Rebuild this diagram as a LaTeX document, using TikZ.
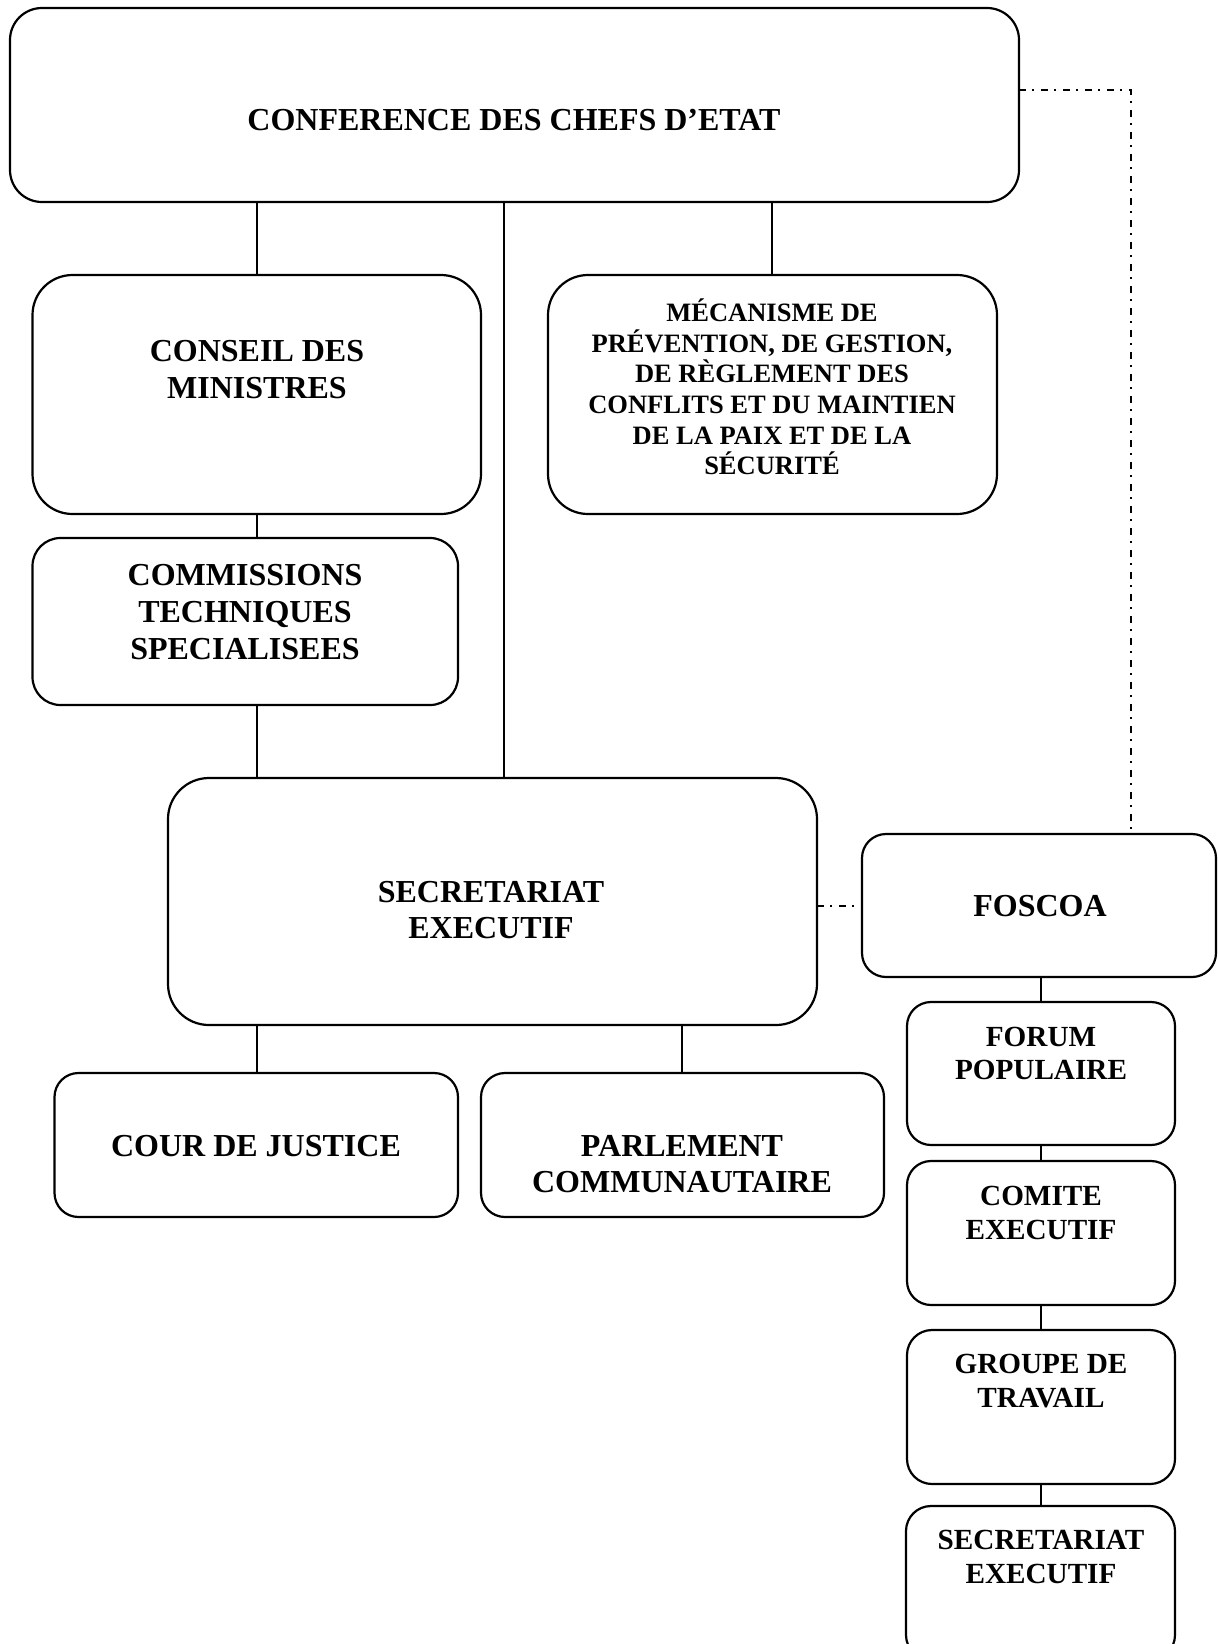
\documentclass[tikz,border=0pt]{standalone}
\usepackage{fontspec}
\setmainfont{Liberation Serif}
\begin{document}
\begin{tikzpicture}[x=0.5pt,y=-0.5pt,
  box/.style={draw, line width=1.1pt, rounded corners=#1, inner sep=0pt, outer sep=0pt},
  box/.default=12pt,
  link/.style={line width=0.8pt},
  dashdot/.style={line width=0.8pt, dash pattern=on 3.5pt off 3pt on 1pt off 3.5pt},
  bigtxt/.style={align=center, inner sep=0pt, font=\bfseries\fontsize{16}{18.35}\selectfont},
  midtxt/.style={align=center, inner sep=0pt, font=\bfseries\fontsize{14.6}{16.9}\selectfont},
  smalltxt/.style={align=center, inner sep=0pt, font=\bfseries\fontsize{13.25}{15.3}\selectfont}]
\useasboundingbox (0,0) rectangle (1218,1644);
\clip (0,0) rectangle (1218,1644);

% boxes
\node[box=16pt, minimum width=504.5pt, minimum height=97pt] (conf) at (514.5,105) {};
\node[box=20pt, minimum width=224.25pt, minimum height=119.5pt] (conseil) at (256.75,394.5) {};
\node[box=20pt, minimum width=224.5pt, minimum height=119.5pt] (meca) at (772.5,394.5) {};
\node[box=14pt, minimum width=212.75pt, minimum height=83.5pt] (comm) at (245.25,621.5) {};
\node[box=20.5pt, minimum width=324.5pt, minimum height=123.5pt] (sec) at (492.5,901.5) {};
\node[box=12pt, minimum width=201.75pt, minimum height=72pt] (cour) at (256.25,1145) {};
\node[box=12pt, minimum width=201.5pt, minimum height=72pt] (parl) at (682.5,1145) {};
\node[box=12pt, minimum width=177pt, minimum height=71.5pt] (fos) at (1039,905.5) {};
\node[box=12pt, minimum width=134pt, minimum height=71.5pt] (forum) at (1041,1073.5) {};
\node[box=12pt, minimum width=134pt, minimum height=72pt] (comite) at (1041,1233) {};
\node[box=12.5pt, minimum width=134pt, minimum height=77pt] (groupe) at (1041,1407) {};
\node[box=12.5pt, minimum width=134.5pt, minimum height=77pt] (secr) at (1040.5,1583) {};

% texts
\node[bigtxt] (conf-t) at (514,120.5) {CONFERENCE DES CHEFS D’ETAT};
\node[bigtxt] (conseil-t) at (257,369.5) {CONSEIL DES\\MINISTRES};
\node[smalltxt] (meca-t) at (772,387) {MÉCANISME DE\\PRÉVENTION, DE GESTION,\\DE RÈGLEMENT DES\\CONFLITS ET DU MAINTIEN\\DE LA PAIX ET DE LA\\SÉCURITÉ};
\node[bigtxt] (comm-t) at (245,612) {COMMISSIONS\\TECHNIQUES\\SPECIALISEES};
\node[bigtxt] (sec-t) at (491,910) {SECRETARIAT\\EXECUTIF};
\node[bigtxt] (fos-t) at (1040,906) {FOSCOA};
\node[bigtxt] (cour-t) at (256,1146) {COUR DE JUSTICE};
\node[bigtxt] (parl-t) at (682,1164) {PARLEMENT\\COMMUNAUTAIRE};
\node[midtxt] (forum-t) at (1041,1053.5) {FORUM\\POPULAIRE};
\node[midtxt] (comite-t) at (1041,1213) {COMITE\\EXECUTIF};
\node[midtxt] (groupe-t) at (1041,1381) {GROUPE DE\\TRAVAIL};
\node[midtxt] (secr-t) at (1041,1557) {SECRETARIAT\\EXECUTIF};

% vertical positions of the connectors
\coordinate (xa) at (257,0);
\coordinate (xb) at (504,0);
\coordinate (xc) at (772,0);
\coordinate (xd) at (682,0);
\coordinate (xe) at (1041,0);
\coordinate (xf) at (1131,0);
\coordinate (ya) at (0,90);
\coordinate (yb) at (0,906);

% solid connectors
\draw[link] (conf.south -| xa) -- (conseil.north -| xa);
\draw[link] (conf.south -| xb) -- (sec.north -| xb);
\draw[link] (conf.south -| xc) -- (meca.north -| xc);
\draw[link] (conseil.south -| xa) -- (comm.north -| xa);
\draw[link] (comm.south -| xa) -- (sec.north -| xa);
\draw[link] (sec.south -| xa) -- (cour.north -| xa);
\draw[link] (sec.south -| xd) -- (parl.north -| xd);
\draw[link] (fos.south -| xe) -- (forum.north -| xe);
\draw[link] (forum.south -| xe) -- (comite.north -| xe);
\draw[link] (comite.south -| xe) -- (groupe.north -| xe);
\draw[link] (groupe.south -| xe) -- (secr.north -| xe);

% dash-dotted links to FOSCOA
\draw[dashdot] (conf.east |- ya) -| (fos.north -| xf);
\draw[dashdot] (sec.east |- yb) -- (fos.west |- yb);
\end{tikzpicture}
\end{document}
